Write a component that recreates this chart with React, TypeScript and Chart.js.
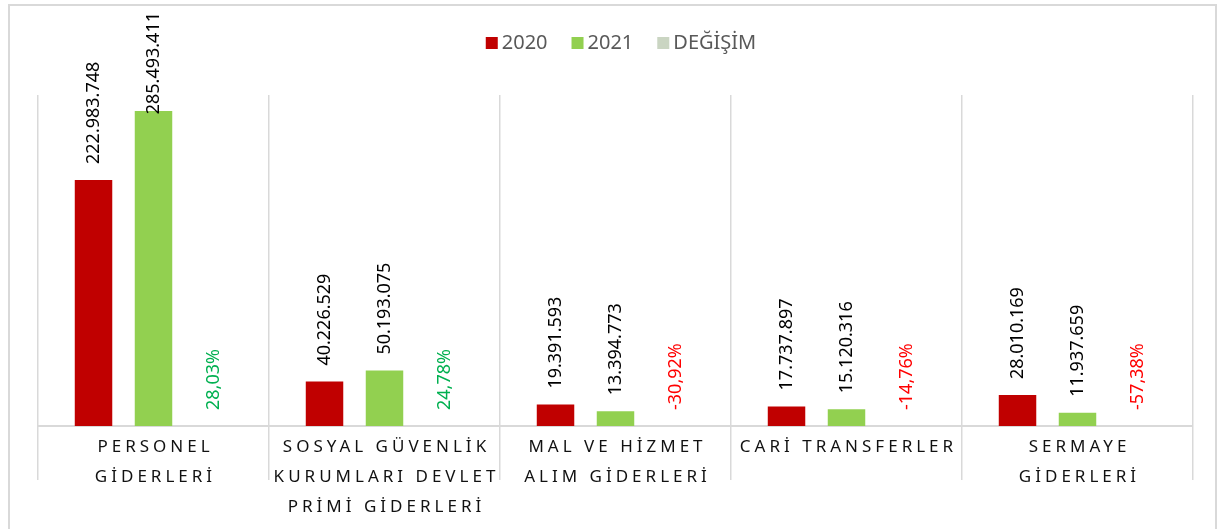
import React, { useEffect, useRef } from "react";
import { Chart, registerables } from "chart.js";

Chart.register(...registerables);

const categories: string[][] = [
  ["PERSONEL", "GİDERLERİ"],
  ["SOSYAL GÜVENLİK", "KURUMLARI DEVLET", "PRİMİ GİDERLERİ"],
  ["MAL VE HİZMET", "ALIM GİDERLERİ"],
  ["CARİ TRANSFERLER"],
  ["SERMAYE", "GİDERLERİ"],
];
const seriesNames = ["2020", "2021", "DEĞİŞİM"];
const values2020 = [222983748, 40226529, 19391593, 17737897, 28010169];
const values2021 = [285493411, 50193075, 13394773, 15120316, 11937659];
const changes = [28.03, 24.78, -30.92, -14.76, -57.38];

const COLORS = ["#C00000", "#92D050", "#CAD5C2"];
const FONT = '"Noto Sans", "Open Sans", sans-serif';

const fmtInt = (n: number) =>
  String(Math.round(n)).replace(/\B(?=(\d{3})+(?!\d))/g, ".");
const fmtPct = (v: number) => v.toFixed(2).replace(".", ",") + "%";

const barLabels = {
  id: "barLabels",
  afterDatasetsDraw(chart: any) {
    const ctx = chart.ctx;
    const base = chart.scales.y.getPixelForValue(0);
    chart.data.datasets.forEach((ds: any, di: number) => {
      const meta = chart.getDatasetMeta(di);
      meta.data.forEach((el: any, i: number) => {
        let text: string;
        let color: string;
        if (di === 2) {
          const v = changes[i];
          text = fmtPct(v);
          color = v >= 0 ? "#00B050" : "#FF0000";
        } else {
          text = fmtInt(ds.data[i]);
          color = "#000000";
        }
        ctx.save();
        ctx.font = `18px ${FONT}`;
        const w = ctx.measureText(text).width;
        const top = Math.min(el.y, base);
        let start = top - 16;
        if (start - w < 12) start = 12 + w;
        ctx.translate(el.x, start);
        ctx.rotate(-Math.PI / 2);
        ctx.fillStyle = color;
        ctx.textAlign = "left";
        ctx.textBaseline = "middle";
        ctx.fillText(text, 0, 0);
        ctx.restore();
      });
    });
  },
};

const categoryLabels = {
  id: "categoryLabels",
  afterDraw(chart: any) {
    const ctx = chart.ctx;
    const xs = chart.scales.x;
    const bottom = chart.chartArea.bottom;
    ctx.save();
    ctx.font = `17px ${FONT}`;
    ctx.fillStyle = "#111111";
    ctx.textAlign = "center";
    ctx.textBaseline = "middle";
    (ctx as any).letterSpacing = "4px";
    categories.forEach((lines, i) => {
      const x = xs.getPixelForValue(i);
      lines.forEach((line, j) => {
        ctx.fillText(line, x + 2, bottom + 21 + j * 30);
      });
    });
    ctx.restore();
  },
};

const customLegend = {
  id: "customLegend",
  afterDraw(chart: any) {
    const ctx = chart.ctx;
    ctx.save();
    ctx.font = `20px ${FONT}`;
    ctx.textBaseline = "middle";
    ctx.textAlign = "left";
    const box = 12;
    const gap = 4;
    const itemGap = 24;
    const widths = seriesNames.map((n) => box + gap + ctx.measureText(n).width);
    const total = widths.reduce((a, b) => a + b, 0) + itemGap * (seriesNames.length - 1);
    let x = 621 - total / 2;
    const y = 43;
    seriesNames.forEach((n, i) => {
      ctx.fillStyle = COLORS[i];
      ctx.fillRect(x, y - box / 2, box, box);
      ctx.fillStyle = "#595959";
      ctx.fillText(n, x + box + gap, y);
      x += widths[i] + itemGap;
    });
    ctx.restore();
  },
};

export default function App() {
  const ref = useRef<HTMLCanvasElement | null>(null);
  useEffect(() => {
    if (!ref.current) return;
    const chart = new Chart(ref.current, {
      type: "bar",
      data: {
        labels: categories.map((c) => c.join(" ")),
        datasets: [
          { label: seriesNames[0], data: values2020, backgroundColor: COLORS[0] },
          { label: seriesNames[1], data: values2021, backgroundColor: COLORS[1] },
          { label: seriesNames[2], data: changes.map((v) => v / 100), backgroundColor: COLORS[2] },
        ],
      },
      options: {
        responsive: false,
        animation: false,
        maintainAspectRatio: false,
        layout: { padding: { left: 38, right: 30, top: 95, bottom: 0 } },
        plugins: {
          legend: { display: false },
          tooltip: { enabled: false },
          title: { display: false },
        },
        datasets: {
          bar: { categoryPercentage: 0.779, barPercentage: 0.625, borderWidth: 0 },
        },
        scales: {
          x: {
            display: true,
            grid: {
              offset: true,
              drawOnChartArea: true,
              drawTicks: true,
              tickLength: 54,
              color: "#D9D9D9",
              lineWidth: 1.5,
            },
            border: { display: true, color: "#D9D9D9", width: 2 },
            ticks: { display: false },
            afterFit: (scale: any) => {
              scale.height = 103;
            },
          },
          y: {
            display: false,
            min: 0,
            max: 300000000,
          },
        },
      },
      plugins: [barLabels, categoryLabels, customLegend],
    });
    return () => chart.destroy();
  }, []);
  return (
    <div
      style={{
        position: "fixed",
        left: 0,
        top: 0,
        width: 1223,
        height: 529,
        overflow: "hidden",
        background: "#ffffff",
      }}
    >
      <div
        style={{
          position: "absolute",
          left: 8,
          top: 4,
          width: 1205,
          height: 600,
          border: "2px solid #D9D9D9",
        }}
      />
      <canvas ref={ref} width={1223} height={529} style={{ position: "absolute", left: 0, top: 0 }} />
    </div>
  );
}
